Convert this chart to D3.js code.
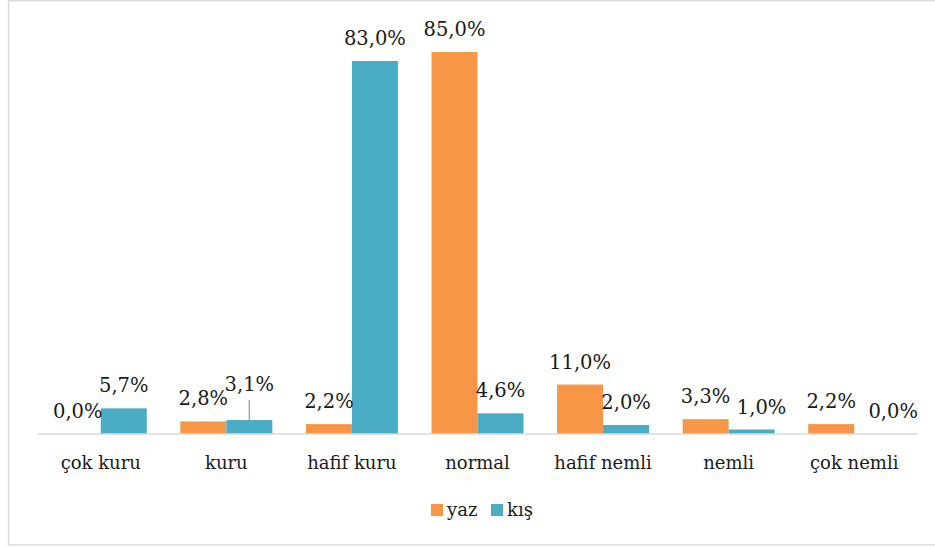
<!DOCTYPE html>
<html>
<head>
<meta charset="utf-8">
<script src="https://cdn.jsdelivr.net/npm/d3@7"></script>
<style>
  body { margin: 0; background: #fff; }
  text { font-family: "DejaVu Serif", "Liberation Serif", serif; fill: #1a1a1a; }
</style>
</head>
<body>
<script>
const categories = ['çok kuru', 'kuru', 'hafif kuru', 'normal', 'hafif nemli', 'nemli', 'çok nemli'];
const seriesNames = ['yaz', 'kış'];
const yaz = [0.0, 2.8, 2.2, 85.0, 11.0, 3.3, 2.2];
const kis = [5.7, 3.1, 83.0, 4.6, 2.0, 1.0, 0.0];
const colors = ['#f79646', '#4bacc6'];

// label nudges [dx, dy] as placed in the original, keyed by series then category
const labelNudge = {
  'kış': { 'kuru': [0, -13], 'nemli': [10, 0], 'çok nemli': [16, 0] }
};

const width = 935;
const height = 547;
const margins = { top: 29.5, bottom: 113, left: 38, right: 18 };

const xScale = d3.scaleBand(categories, [margins.left, width - margins.right]);
const inner = d3.scaleBand(seriesNames, [0, 92]);
const yScale = d3.scaleLinear([0, 90], [height - margins.bottom, margins.top]);

const fmt = v => d3.format('.1f')(v).replace('.', ',') + '%';

const rows = [];
categories.forEach((c, i) => {
  rows.push({ cat: c, series: 'yaz', value: yaz[i] });
  rows.push({ cat: c, series: 'kış', value: kis[i] });
});

const svg = d3.select('body').append('svg')
  .attr('width', width)
  .attr('height', height);

// chart frame
svg.append('rect')
  .attr('x', 8.5)
  .attr('y', 0.5)
  .attr('width', width)
  .attr('height', 544.5)
  .attr('fill', 'none')
  .attr('stroke', '#d9d9d9')
  .attr('stroke-width', 1.5);

const barX = d => xScale(d.cat) + (xScale.bandwidth() - 92) / 2 + inner(d.series);

// bars
svg.append('g')
  .selectAll('rect')
  .data(rows)
  .join('rect')
  .attr('x', barX)
  .attr('y', d => yScale(d.value))
  .attr('width', inner.bandwidth())
  .attr('height', d => yScale(0) - yScale(d.value))
  .attr('fill', d => colors[seriesNames.indexOf(d.series)]);

// x-axis line
svg.append('line')
  .attr('x1', margins.left)
  .attr('x2', width - margins.right)
  .attr('y1', yScale(0))
  .attr('y2', yScale(0))
  .attr('stroke', '#d9d9d9')
  .attr('stroke-width', 1.5);

// category labels
svg.append('g')
  .selectAll('text')
  .data(categories)
  .join('text')
  .attr('x', d => xScale(d) + xScale.bandwidth() / 2)
  .attr('y', 469)
  .attr('text-anchor', 'middle')
  .attr('font-size', 18)
  .text(d => d);

const nudge = d => (labelNudge[d.series] && labelNudge[d.series][d.cat]) || [0, 0];

// leader lines for moved labels
svg.append('g')
  .selectAll('line')
  .data(rows.filter(d => nudge(d)[1] !== 0))
  .join('line')
  .attr('x1', d => barX(d) + inner.bandwidth() / 2)
  .attr('x2', d => barX(d) + inner.bandwidth() / 2)
  .attr('y1', d => yScale(d.value) - 16 + nudge(d)[1] + 9)
  .attr('y2', d => yScale(d.value))
  .attr('stroke', '#a6a6a6')
  .attr('stroke-width', 1.5);

// value labels
svg.append('g')
  .selectAll('text')
  .data(rows)
  .join('text')
  .attr('x', d => barX(d) + inner.bandwidth() / 2 + nudge(d)[0])
  .attr('y', d => yScale(d.value) - 16 + nudge(d)[1])
  .attr('text-anchor', 'middle')
  .attr('font-size', 19.5)
  .text(d => fmt(d.value));

// legend
const legend = svg.append('g')
  .selectAll('g')
  .data(seriesNames)
  .join('g')
  .attr('transform', (d, i) => `translate(${[431, 491][i]}, 504)`);

legend.append('rect')
  .attr('width', 12)
  .attr('height', 12)
  .attr('fill', (d, i) => colors[i]);

legend.append('text')
  .attr('x', 16)
  .attr('y', 12)
  .attr('font-size', 18)
  .text(d => d);
</script>
</body>
</html>
